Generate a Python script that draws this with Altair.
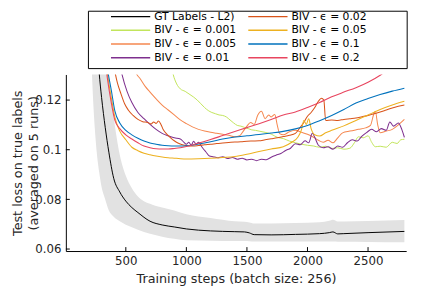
import altair as alt
import pandas as pd

# ---------------- data ----------------
LABELS = ["GT Labels - L2)", "BIV - \u03f5 = 0.001", "BIV - \u03f5 = 0.005", "BIV - \u03f5 = 0.01",
          "BIV - \u03f5 = 0.02", "BIV - \u03f5 = 0.05", "BIV - \u03f5 = 0.1", "BIV - \u03f5 = 0.2"]
COLORS = ["#000000", "#c2e55c", "#f5874f", "#7e2f8e", "#d95319", "#edb120", "#0072bd", "#e8455f"]
WIDTHS = [1.0, 1.1, 1.3, 1.2, 1.2, 1.8, 2.4, 1.8]

gt_steps = [200, 220, 260, 280, 300, 330, 360, 400, 450, 500, 550, 600, 700, 800, 900, 1000,
            1200, 1400, 1480, 1520, 1560, 1700, 1900, 2100, 2180, 2210, 2250, 2300, 2500, 2800]
gt_mean = [0.19, 0.173, 0.145, 0.131, 0.121, 0.109, 0.099, 0.0885, 0.0830, 0.0793, 0.0767, 0.0747,
           0.0712, 0.0697, 0.0689, 0.0681, 0.0673, 0.0670, 0.0669, 0.0665, 0.0658, 0.0657, 0.0659,
           0.0662, 0.0666, 0.0669, 0.0661, 0.0662, 0.0666, 0.0671]
gt_lower = [0.16, 0.131, 0.099, 0.091, 0.085, 0.080, 0.0755, 0.073, 0.0712, 0.0698, 0.0688, 0.0678,
            0.0662, 0.0650, 0.0641, 0.0635, 0.0633, 0.0632, 0.0632, 0.0631, 0.0630, 0.0630, 0.0630,
            0.0630, 0.0630, 0.0630, 0.0629, 0.0629, 0.0628, 0.0627]
gt_upper = [0.25, 0.22, 0.19, 0.175, 0.163, 0.145, 0.128, 0.113, 0.098, 0.0895, 0.0845, 0.0812,
            0.0782, 0.0767, 0.0755, 0.0740, 0.0725, 0.0712, 0.0710, 0.0707, 0.0703, 0.0703, 0.0705,
            0.0708, 0.0714, 0.0718, 0.0711, 0.0711, 0.0713, 0.0717]

e0001_steps = [860, 890, 920, 950, 990, 1030, 1060, 1090, 1120, 1150, 1180, 1210, 1240, 1270, 1300,
               1330, 1360, 1390, 1420, 1450, 1480, 1510, 1540, 1570, 1600, 1650, 1700, 1750, 1800,
               1850, 1900, 1950, 2000, 2050, 2100, 2150, 2200, 2250, 2300, 2350, 2390, 2420, 2460,
               2500, 2530, 2560, 2600, 2650, 2700, 2740, 2770, 2800]
e0001_loss = [0.138, 0.1305, 0.1265, 0.1245, 0.1235, 0.1222, 0.1212, 0.1200, 0.1185, 0.1170, 0.1158,
              0.1150, 0.1145, 0.1140, 0.1138, 0.1132, 0.1120, 0.1108, 0.1098, 0.1095, 0.1090, 0.1085,
              0.1080, 0.1078, 0.1075, 0.1070, 0.1063, 0.1050, 0.1045, 0.1035, 0.1028, 0.1022, 0.1018,
              0.1015, 0.1010, 0.1014, 0.1005, 0.1008, 0.1002, 0.1006, 0.1030, 0.1052, 0.1048, 0.1056,
              0.1030, 0.1012, 0.1014, 0.1010, 0.1030, 0.1025, 0.1040, 0.1042]

e0005_steps = [540, 580, 620, 660, 700, 750, 800, 850, 900, 950, 1000, 1050, 1100, 1150, 1200, 1250,
               1300, 1350, 1400, 1440, 1470, 1500, 1530, 1560, 1590, 1620, 1650, 1680, 1700, 1730,
               1750, 1770, 1800, 1850, 1900, 1950, 2000, 2050, 2090, 2130, 2170, 2210, 2250, 2290,
               2350, 2420, 2480, 2520, 2545, 2560, 2580, 2600, 2650, 2700, 2750, 2800]
e0005_loss = [0.140, 0.1315, 0.1285, 0.1255, 0.1232, 0.1205, 0.1180, 0.1160, 0.1140, 0.1120, 0.1105,
              0.1092, 0.1082, 0.1075, 0.1070, 0.1066, 0.1062, 0.1058, 0.1052, 0.1056, 0.1075, 0.1095,
              0.1110, 0.1102, 0.1140, 0.1155, 0.1125, 0.1140, 0.1132, 0.1142, 0.1100, 0.1065, 0.1060,
              0.1072, 0.1078, 0.1070, 0.1062, 0.1050, 0.1038, 0.1030, 0.1038, 0.1028, 0.1048, 0.1068,
              0.1075, 0.1082, 0.1088, 0.1098, 0.1140, 0.1155, 0.1100, 0.1068, 0.1075, 0.1082, 0.1100,
              0.1122]

e001_steps = [430, 470, 510, 550, 600, 650, 700, 750, 800, 850, 900, 950, 980, 1000, 1020, 1040, 1060,
              1080, 1100, 1130, 1160, 1190, 1220, 1260, 1300, 1340, 1380, 1420, 1460, 1500, 1540,
              1580, 1620, 1660, 1700, 1740, 1780, 1820, 1860, 1900, 1940, 1980, 2010, 2040, 2060,
              2090, 2130, 2170, 2210, 2250, 2290, 2330, 2370, 2410, 2450, 2490, 2530, 2570, 2610,
              2650, 2680, 2710, 2750, 2780, 2800]
e001_loss = [0.140, 0.130, 0.1235, 0.1190, 0.1150, 0.1125, 0.1102, 0.1082, 0.1066, 0.1056, 0.1048,
             0.1043, 0.1030, 0.1022, 0.1030, 0.1018, 0.1034, 0.1022, 0.1030, 0.1010, 0.0992, 0.0975,
             0.0972, 0.0968, 0.0972, 0.0965, 0.0969, 0.0962, 0.0966, 0.0959, 0.0962, 0.0956, 0.0962,
             0.0960, 0.0970, 0.0978, 0.0985, 0.0997, 0.1006, 0.1024, 0.1020, 0.1036, 0.1028, 0.1066,
             0.1050, 0.1018, 0.1008, 0.1012, 0.1002, 0.1015, 0.1010, 0.1028, 0.1040, 0.1035, 0.1055,
             0.1070, 0.1082, 0.1072, 0.1085, 0.1078, 0.1112, 0.1095, 0.1108, 0.1080, 0.1050]

e002_steps = [350, 400, 430, 460, 490, 520, 560, 600, 640, 680, 710, 730, 750, 770, 790, 810, 840,
              870, 900, 930, 960, 1000, 1050, 1100, 1150, 1200, 1250, 1300, 1350, 1400, 1450, 1500,
              1550, 1600, 1650, 1700, 1750, 1800, 1850, 1900, 1940, 1970, 2000, 2030, 2060, 2090,
              2115, 2135, 2150, 2200, 2250, 2300, 2350, 2400, 2450, 2500, 2550, 2600, 2650, 2700,
              2750, 2800]
e002_loss = [0.150, 0.134, 0.127, 0.1225, 0.1185, 0.1160, 0.1138, 0.1122, 0.1113, 0.1110, 0.1104,
             0.1112, 0.1106, 0.1116, 0.1102, 0.1080, 0.1062, 0.1048, 0.1036, 0.1027, 0.1021, 0.1017,
             0.1015, 0.1017, 0.1020, 0.1022, 0.1025, 0.1027, 0.1029, 0.1031, 0.1032, 0.1034, 0.1035,
             0.1036, 0.1040, 0.1044, 0.1048, 0.1053, 0.1058, 0.1066, 0.1090, 0.1110, 0.1135, 0.1150,
             0.1170, 0.1195, 0.1207, 0.1200, 0.1118, 0.1120, 0.1118, 0.1122, 0.1125, 0.1128, 0.1133,
             0.1138, 0.1145, 0.1152, 0.1160, 0.1168, 0.1175, 0.1180]

e005_steps = [320, 350, 380, 410, 450, 500, 550, 600, 650, 700, 750, 800, 850, 900, 950, 1000, 1100,
              1200, 1300, 1400, 1500, 1600, 1700, 1800, 1870, 1920, 1950, 1970, 1990, 2010, 2030,
              2060, 2100, 2150, 2200, 2300, 2400, 2500, 2600, 2700, 2800]
e005_loss = [0.142, 0.130, 0.121, 0.1130, 0.1075, 0.1040, 0.1010, 0.0996, 0.0986, 0.0980, 0.0975,
             0.0971, 0.0968, 0.0966, 0.0964, 0.0963, 0.0964, 0.0966, 0.0969, 0.0973, 0.0982, 0.0993,
             0.1003, 0.1012, 0.1030, 0.1050, 0.1080, 0.1118, 0.1102, 0.1125, 0.1085, 0.1060, 0.1055,
             0.1068, 0.1078, 0.1096, 0.1118, 0.1140, 0.1162, 0.1180, 0.1195]

e01_steps = [320, 350, 380, 410, 450, 500, 550, 600, 650, 700, 750, 800, 850, 900, 950, 1000, 1100,
             1200, 1300, 1400, 1500, 1600, 1700, 1800, 1900, 2000, 2100, 2200, 2300, 2400, 2500,
             2600, 2700, 2800]
e01_loss = [0.142, 0.132, 0.124, 0.1155, 0.1108, 0.1078, 0.1060, 0.1046, 0.1035, 0.1027, 0.1022,
            0.1018, 0.1016, 0.1015, 0.1015, 0.1016, 0.1023, 0.1032, 0.1043, 0.1051, 0.1056, 0.1061,
            0.1067, 0.1074, 0.1084, 0.1098, 0.1117, 0.1138, 0.1162, 0.1188, 0.1206, 0.1222, 0.1236,
            0.1248]

e02_steps = [320, 350, 380, 410, 450, 500, 550, 600, 650, 700, 750, 800, 850, 900, 950, 1000, 1100,
             1200, 1300, 1400, 1500, 1600, 1700, 1800, 1900, 2000, 2100, 2200, 2300, 2400, 2500,
             2600, 2650]
e02_loss = [0.140, 0.128, 0.119, 0.1118, 0.1085, 0.1060, 0.1043, 0.1028, 0.1015, 0.1008, 0.1004,
            0.1003, 0.1003, 0.1005, 0.1008, 0.1013, 0.1026, 0.1041, 0.1057, 0.1073, 0.1089, 0.1105,
            0.1122, 0.1140, 0.1152, 0.1170, 0.1190, 0.1213, 0.1232, 0.1250, 0.1272, 0.1300, 0.1318]

X_TICKS = [500, 1000, 1500, 2000, 2500]
Y_TICKS = [0.06, 0.08, 0.1, 0.12]

# ---------------- tables ----------------
all_steps = [gt_steps, e0001_steps, e0005_steps, e001_steps, e002_steps, e005_steps, e01_steps, e02_steps]
all_loss = [gt_mean, e0001_loss, e0005_loss, e001_loss, e002_loss, e005_loss, e01_loss, e02_loss]
rows = []
for i, (lab, st, ls) in enumerate(zip(LABELS, all_steps, all_loss)):
    for s, v in zip(st, ls):
        rows.append({"series": lab, "sid": i, "step": s, "loss": v})
lines_df = pd.DataFrame(rows)
band_df = pd.DataFrame({"step": gt_steps, "lower": gt_lower, "upper": gt_upper})

FONT = "DejaVu Sans"
TXT = "#262626"
xscale = alt.Scale(domain=[5, 2815], nice=False, zero=False)
yscale = alt.Scale(domain=[0.0592, 0.1303], nice=False, zero=False)

band = alt.Chart(band_df).mark_area(color="#e2e2e2", clip=True, interpolate="monotone").encode(
    x=alt.X("step:Q", scale=xscale,
            axis=alt.Axis(values=X_TICKS, format="d", ticks=False, grid=False,
                          title="Training steps (batch size: 256)", labelPadding=5, titlePadding=6)),
    y=alt.Y("lower:Q", scale=yscale,
            axis=alt.Axis(values=Y_TICKS, format="~g", ticks=False, grid=False,
                          title=["Test loss on true labels", "(averaged on 5 runs)"],
                          labelPadding=5, titleX=-42, titleY=90, titleLineHeight=16)),
    y2="upper:Q",
)

lines = alt.Chart(lines_df).mark_line(clip=True, interpolate="monotone").encode(
    x=alt.X("step:Q", scale=xscale),
    y=alt.Y("loss:Q", scale=yscale),
    color=alt.Color("series:N", scale=alt.Scale(domain=LABELS, range=COLORS),
                    legend=alt.Legend(orient="none", legendX=40, legendY=-65, columns=2,
                                      title=None, symbolType="M-4,0H4", symbolSize=100,
                                      symbolOffset=20, labelOffset=18, columnPadding=6,
                                      rowPadding=3, padding=0, symbolStrokeWidth=1.5,
                                      labelFont=FONT, labelFontSize=11, labelColor="#000000")),
    strokeWidth=alt.StrokeWidth("sid:O", scale=alt.Scale(domain=list(range(8)), range=WIDTHS),
                                legend=None),
)

xt = alt.Chart(pd.DataFrame({"t": X_TICKS})).mark_rule(color="#000000", strokeWidth=1).encode(
    x=alt.X("t:Q", scale=xscale), y=alt.value(180), y2=alt.value(176))
yt = alt.Chart(pd.DataFrame({"t": Y_TICKS})).mark_rule(color="#000000", strokeWidth=1).encode(
    y=alt.Y("t:Q", scale=yscale), x=alt.value(0), x2=alt.value(4))

frame = alt.Chart(pd.DataFrame({"a": [0]})).mark_rect(
    fill=None, stroke="#000000", strokeWidth=1, clip=False).encode(
    x=alt.value(23), x2=alt.value(348), y=alt.value(-64.5), y2=alt.value(-6))

chart = alt.layer(band, lines, xt, yt, frame).properties(
    width=347, height=180,
    autosize=alt.AutoSizeParams(type="none"),
    padding={"left": 59, "top": 65, "right": 10, "bottom": 40},
).configure_view(stroke=None).configure_axis(
    domainColor="#000000", domainWidth=1, labelFont=FONT, labelFontSize=12, labelColor=TXT,
    titleFont=FONT, titleFontSize=13, titleColor=TXT, titleFontWeight="normal",
)

chart.save("out.html", embed_options={"renderer": "svg", "actions": False})
